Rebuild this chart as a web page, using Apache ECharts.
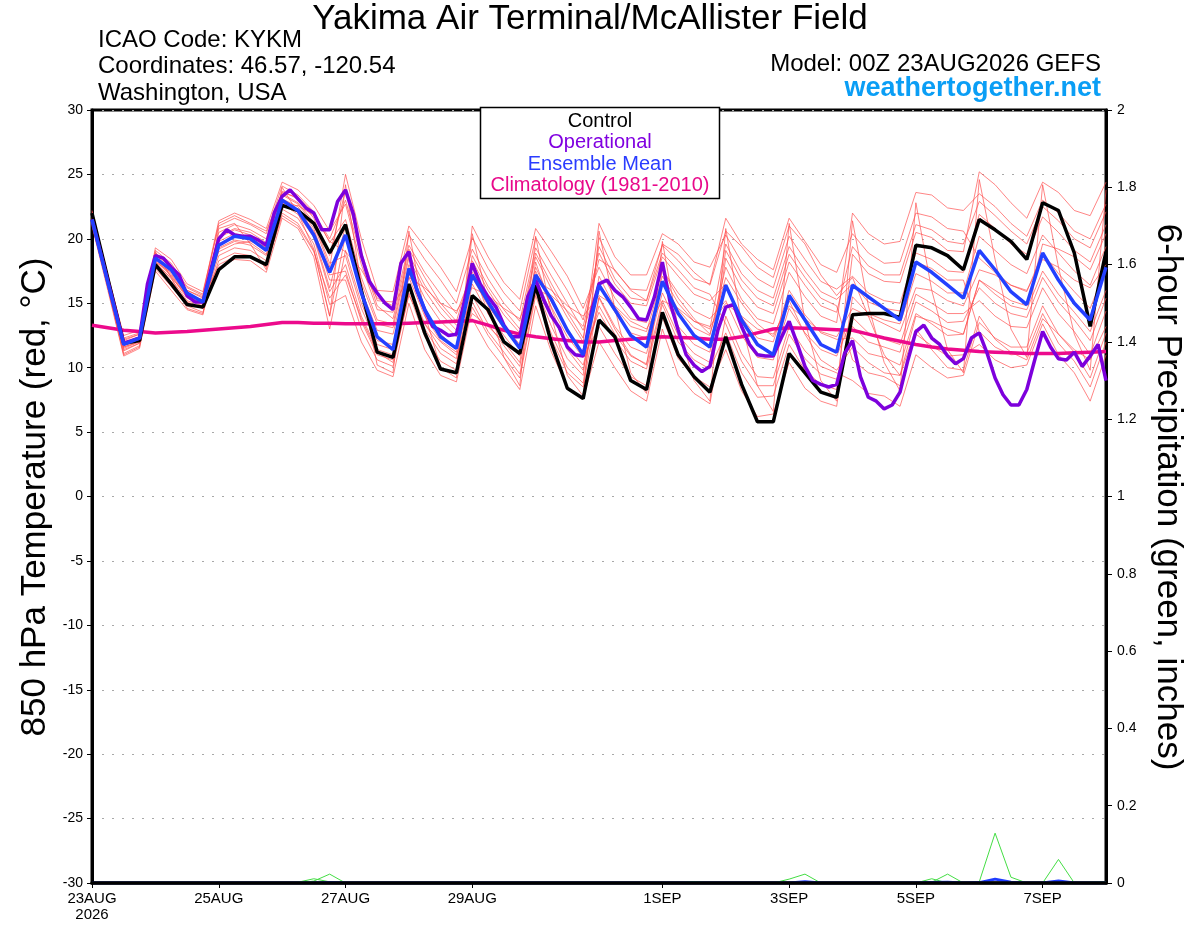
<!DOCTYPE html>
<html><head><meta charset="utf-8">
<script src="https://cdn.jsdelivr.net/npm/echarts@6/dist/echarts.min.js"></script>
<style>html,body{margin:0;padding:0;background:#fff}#c{width:1200px;height:927px}</style>
</head><body><div id="c"></div>
<script>
// ---- x-axis tick labels (hours since 00Z 23AUG2026) ----
const xTickHours = [0, 48, 96, 144, 216, 264, 312, 360];
const xTickLabels = ['23AUG\n2026', '25AUG', '27AUG', '29AUG', '1SEP', '3SEP', '5SEP', '7SEP'];

// ---- 850 hPa temperature, 6-hourly (65 steps) ----
const control = [22.0,16.9,11.9,12.1,18.0,16.5,14.9,14.7,17.6,18.6,18.6,18.0,22.6,22.2,21.2,18.9,
  21.1,16.0,11.2,10.8,16.5,12.7,9.9,9.6,15.6,14.5,12.0,11.1,16.4,11.9,8.4,7.6,
  13.7,12.4,9.0,8.3,14.3,11.0,9.3,8.1,12.4,8.7,5.8,5.8,11.1,9.6,8.1,7.7,
  14.1,14.2,14.2,13.9,19.5,19.3,18.7,17.6,21.5,20.7,19.8,18.4,22.8,22.2,18.9,13.2,19.0];
const ensembleMean = [21.5,16.6,11.8,12.3,18.5,17.6,15.8,15.1,19.5,20.2,20.0,19.1,23.0,22.2,20.3,17.4,
  20.3,15.8,12.4,11.4,17.7,14.5,12.4,11.5,17.2,15.1,13.2,11.5,17.2,15.3,12.9,11.0,
  16.4,14.5,12.5,11.6,16.7,14.2,12.5,11.6,16.4,13.7,11.8,11.0,15.6,13.7,11.8,11.2,
  16.4,15.5,14.6,13.7,18.2,17.4,16.4,15.4,19.1,17.6,15.9,14.9,18.9,16.8,15.0,13.7,17.8];
const climatology = [13.3,13.1,12.9,12.8,12.7,12.75,12.8,12.9,13.0,13.1,13.2,13.35,13.5,13.5,13.45,13.45,
  13.4,13.4,13.4,13.4,13.45,13.5,13.55,13.6,13.65,13.3,12.9,12.6,12.4,12.25,12.1,12.0,
  12.0,12.1,12.2,12.3,12.4,12.35,12.3,12.2,12.2,12.4,12.7,13.0,13.1,13.05,13.0,12.95,
  12.9,12.6,12.3,12.05,11.8,11.6,11.45,11.35,11.25,11.2,11.15,11.1,11.1,11.1,11.15,11.2,11.25];

// ---- operational run, 3-hourly (129 steps) ----
const operational = [21.5,19.1,16.7,14.3,11.9,12.1,12.3,16.5,18.7,18.5,17.8,17.2,15.6,15.1,15.1,17.6,
  20.0,20.7,20.3,20.2,20.2,19.9,19.5,22.0,23.3,23.8,23.1,22.4,22.0,20.7,20.7,22.9,
  23.8,21.9,18.7,16.7,15.8,15.0,14.5,18.1,19.0,16.0,14.5,13.2,12.9,12.5,12.6,15.1,
  18.1,16.5,15.5,14.7,13.3,12.4,12.4,15.5,16.8,15.3,14.0,13.1,11.6,11.0,10.9,14.2,
  16.5,16.8,16.0,15.5,14.7,13.8,13.7,15.5,18.2,15.0,12.9,11.0,10.2,9.7,10.1,12.9,
  14.7,14.9,13.2,11.8,11.0,10.9,10.9,12.3,13.6,11.9,10.1,9.0,8.7,8.5,8.7,11.1,
  12.1,9.3,7.7,7.4,6.8,7.1,8.1,10.6,12.8,13.3,12.3,11.8,10.9,10.3,10.7,12.3,
  12.7,11.1,9.2,7.9,7.1,7.1,8.3,10.6,12.8,11.6,10.7,10.6,11.2,10.1,10.9,11.8,9.0];

// ---- ensemble members, 6-hourly ----
const member01 = [22.1,17.1,12.3,12.7,19.1,18.1,16.3,15.7,21.4,22.0,21.5,20.8,24.4,23.8,22.6,20.6,22.7,18.0,14.5,14.3,19.5,17.4,15.7,14.2,17.4,15.1,13.3,11.8,17.8,15.1,12.8,11.1,14.3,12.2,10.5,9.9,14.9,12.0,10.6,9.9,12.7,9.6,7.7,7.8,11.8,9.8,8.7,8.3,18.8,17.3,16.7,16.6,20.5,20.1,19.1,19.0,25.2,24.2,22.8,21.6,24.4,23.6,22.2,21.8,24.4];
const member02 = [21.9,16.9,12.1,12.6,18.9,17.8,16.0,15.5,20.1,20.7,20.3,19.5,23.4,22.7,21.1,17.8,25.0,20.0,16.0,15.9,21.0,19.4,17.8,15.9,20.1,17.7,15.8,14.4,20.1,18.0,16.0,13.7,18.9,16.5,15.0,14.8,18.6,17.1,15.7,15.2,16.5,13.9,12.3,12.0,16.0,14.1,12.7,12.2,12.3,11.1,10.8,10.2,14.2,13.4,12.5,12.6,16.8,15.7,14.8,14.5,17.5,15.7,14.3,12.8,16.0];
const member03 = [21.8,16.8,11.9,12.4,18.6,17.5,15.8,15.2,19.2,19.8,19.5,18.7,22.7,21.9,20.1,15.9,18.0,14.0,11.4,11.0,16.5,13.4,11.5,10.7,18.3,16.0,14.1,12.7,18.6,16.1,13.9,12.0,21.2,18.6,17.2,17.2,20.4,19.6,18.2,17.8,20.3,18.2,16.9,16.2,20.2,18.4,16.7,16.1,17.1,15.8,15.2,15.0,18.9,18.4,17.5,17.4,21.9,20.8,19.6,18.8,21.7,20.5,19.1,18.2,21.1];
const member04 = [21.6,16.6,11.7,12.2,18.4,17.2,15.5,15.0,20.5,21.1,20.7,20.0,23.7,23.1,21.6,18.7,23.8,19.0,15.2,15.1,20.3,18.4,16.8,15.0,19.2,16.9,15.0,13.6,19.3,17.1,15.0,12.9,16.6,14.3,12.7,12.3,16.7,14.5,13.1,12.5,17.8,15.3,13.8,13.4,17.4,15.5,14.0,13.5,22.0,20.4,19.6,19.8,23.6,23.4,22.4,22.2,23.5,22.5,21.2,20.2,23.0,22.0,20.6,20.0,22.7];
const member05 = [21.4,16.4,11.5,12.0,18.2,16.9,15.2,14.8,18.7,19.3,19.1,18.3,22.3,21.6,19.6,14.9,15.6,12.0,9.8,9.3,15.0,11.4,9.4,8.9,14.7,12.5,10.8,9.2,15.6,12.2,9.6,8.5,15.5,13.2,11.6,11.1,15.8,13.2,11.8,11.2,19.1,16.8,15.4,14.8,18.8,17.0,15.4,14.8,10.6,9.6,9.3,8.6,12.6,11.7,10.9,11.0,11.8,10.6,10.0,10.2,13.4,11.0,9.6,7.4,11.0];
const member06 = [21.3,16.3,11.3,11.9,18.0,16.6,15.0,14.6,18.3,18.9,18.7,17.8,22.0,21.2,19.1,14.0,20.3,16.0,12.9,12.6,18.0,15.4,13.6,12.4,17.0,14.8,13.0,11.5,17.5,14.7,12.4,10.8,13.2,11.1,9.3,8.6,13.9,10.7,9.3,8.5,11.4,8.2,6.2,6.4,10.4,8.4,7.4,7.0,15.5,14.2,13.7,13.4,17.3,16.7,15.8,15.8,20.2,19.1,18.0,17.3,20.3,18.9,17.5,16.4,19.4];
const member07 = [21.1,16.2,11.1,11.7,17.7,16.3,14.8,14.3,17.8,18.4,18.3,17.4,21.6,20.8,18.6,13.0,19.1,15.0,12.1,11.8,17.3,14.4,12.6,11.5,15.6,13.4,11.7,10.1,16.3,13.2,10.7,9.4,20.1,17.5,16.1,16.0,19.5,18.3,16.9,16.5,21.6,19.6,18.4,17.6,21.6,19.8,18.0,17.4,20.4,18.9,18.1,18.2,22.0,21.7,20.8,20.6,18.5,17.4,16.4,15.9,18.9,17.3,15.9,14.6,17.7];
const member08 = [22.2,17.2,12.5,12.9,19.3,18.4,16.5,15.9,21.0,21.6,21.1,20.4,24.1,23.4,22.1,19.7,21.5,17.0,13.7,13.4,18.8,16.4,14.7,13.3,13.8,11.6,10.0,8.3,14.8,11.2,8.5,7.6,12.0,10.0,8.2,7.4,13.0,9.4,8.0,7.2,14.0,11.1,9.3,9.2,13.2,11.3,10.1,9.6,9.0,8.0,7.8,7.0,11.0,10.0,9.2,9.4,13.5,12.3,11.6,11.6,14.8,12.6,11.2,9.2,12.7];
const member09 = [21.0,16.0,10.9,11.5,17.5,16.0,14.5,14.1,19.6,20.2,19.9,19.1,23.0,22.3,20.6,16.8,16.8,13.0,10.6,10.1,15.8,12.4,10.5,9.8,21.0,18.6,16.6,15.3,20.8,19.0,17.1,14.6,17.8,15.4,13.8,13.5,17.6,15.8,14.4,13.8,15.2,12.5,10.8,10.6,14.6,12.7,11.4,10.9,13.9,12.7,12.2,11.8,15.7,15.0,14.2,14.2,15.2,14.0,13.2,13.1,16.2,14.2,12.8,11.0,14.4];
const member10 = [21.7,16.7,11.8,12.3,18.5,17.3,15.6,15.1,19.8,20.4,20.1,19.3,23.1,22.5,20.8,17.2,17.5,13.6,11.0,10.6,16.2,13.0,11.1,10.3,16.5,14.2,12.5,10.9,17.1,14.1,11.7,10.2,14.8,12.6,10.9,10.3,15.2,12.5,11.1,10.4,18.5,16.2,14.7,14.2,18.2,16.4,14.8,14.3,19.4,17.9,17.2,17.2,21.1,20.7,19.8,19.6,22.9,21.8,20.6,19.6,22.5,21.4,20.0,19.3,22.1];
const member11 = [21.3,16.4,11.4,11.9,18.1,16.7,15.1,14.6,20.2,20.8,20.5,19.7,23.5,22.8,21.3,18.1,18.7,14.6,11.8,11.4,17.0,14.0,12.1,11.2,18.7,16.3,14.5,13.0,18.9,16.5,14.3,12.3,19.4,16.9,15.4,15.2,18.9,17.6,16.2,15.7,13.4,10.5,8.6,8.6,12.6,10.7,9.5,9.1,13.2,12.0,11.6,11.2,15.1,14.4,13.5,13.6,16.2,15.0,14.2,13.9,17.0,15.1,13.7,12.1,15.4];
const member12 = [21.5,16.5,11.6,12.1,18.3,17.1,15.4,14.9,19.3,19.9,19.7,18.8,22.8,22.1,20.3,16.2,21.0,16.6,13.4,13.1,18.5,16.0,14.2,12.9,15.1,12.8,11.2,9.5,15.9,12.6,10.0,8.8,17.1,14.7,13.2,12.8,17.1,15.0,13.6,13.0,19.6,17.3,16.0,15.4,19.4,17.5,15.9,15.3,16.5,15.1,14.6,14.4,18.2,17.7,16.8,16.8,12.8,11.6,11.0,11.1,14.2,11.9,10.5,8.5,12.0];
const member13 = [21.6,16.8,12.0,12.4,18.2,17.4,16.0,15.4,19.0,19.6,19.8,19.4,22.4,22.6,21.8,19.8,19.0,17.6,15.4,14.8,17.0,16.2,15.0,14.4,16.2,15.6,14.6,13.8,16.8,16.0,14.8,14.0,15.6,14.8,13.6,13.0,15.2,14.6,13.6,13.2,15.0,14.0,13.0,12.6,14.8,13.8,12.8,12.4,14.6,14.0,13.4,12.8,16.2,16.0,15.2,14.8,17.6,17.2,16.4,16.0,18.4,17.8,16.8,16.2,18.0];
const member14 = [21.8,16.2,11.0,11.6,19.0,17.0,14.6,14.2,20.8,21.2,19.6,17.6,24.0,22.0,19.2,14.0,24.2,16.4,10.2,9.6,20.6,14.2,10.0,9.2,20.4,15.0,10.8,8.6,20.2,14.0,9.4,7.8,20.6,14.6,9.6,8.0,19.8,13.0,9.0,7.4,20.8,13.4,8.6,6.6,21.2,13.6,9.0,7.4,21.4,14.8,10.4,8.2,22.8,16.0,11.4,9.6,24.6,18.4,13.0,10.8,24.2,17.8,12.6,9.8,23.8];
const member15 = [21.2,16.5,11.6,12.0,18.0,17.0,15.6,15.3,18.0,18.6,18.6,18.0,21.8,21.0,19.0,15.4,17.2,13.8,11.2,10.4,15.6,13.4,12.0,11.0,14.2,13.2,12.0,11.0,16.0,15.6,14.4,13.2,18.4,17.6,16.0,15.2,19.6,18.8,17.4,16.4,20.6,19.4,17.8,17.0,21.0,19.6,17.2,15.6,17.0,14.0,11.0,9.4,13.0,11.4,10.0,9.8,14.0,12.2,11.2,10.6,13.8,12.6,11.4,10.6,13.2];
const member16 = [22.0,17.0,12.2,12.6,18.8,17.8,16.2,15.6,21.2,21.8,21.2,20.6,23.6,23.2,22.0,20.0,23.0,18.6,14.8,13.8,19.2,17.0,15.0,13.6,17.8,14.2,12.0,10.4,18.2,14.6,11.4,9.8,15.4,13.0,11.0,10.2,17.6,15.4,13.8,12.6,17.0,15.0,13.4,12.4,15.2,12.6,10.6,9.8,11.6,10.4,9.6,9.4,14.0,13.6,13.0,12.6,16.8,16.0,15.2,14.8,19.6,19.2,18.6,17.6,20.4];
const members = [member01, member02, member03, member04, member05, member06, member07, member08,
  member09, member10, member11, member12, member13, member14, member15, member16];

// ---- 6-hour precipitation (inches), 6-hourly ----
const precipA = [0,0,0,0,0,0,0,0,0,0,0,0,0,0,0.005,0.023,0,0,0,0,0,0,0,0,0,0,0,0,0,0,0,0,0,0,0,0,0,0,0.004,0,0,0,0,0,0.010,0.023,0,0,0,0,0,0,0,0.002,0.023,0,0.003,0.129,0.015,0,0,0.061,0,0.002,0.003];
const precipB = [0,0,0,0,0,0,0,0,0,0,0,0,0,0.002,0.011,0.003,0,0,0,0,0,0,0,0,0,0,0,0,0,0,0,0,0,0,0,0,0,0,0,0,0,0,0,0,0,0,0,0,0,0,0,0,0,0.011,0,0,0,0,0,0,0,0,0,0,0];
const precipMean = [0,0,0,0,0,0,0,0,0,0,0,0,0,0,0,0.001,0,0,0,0,0,0,0,0,0,0,0,0,0,0,0,0,0,0,0,0,0,0,0,0,0,0,0,0,0,0.003,0,0,0,0,0,0,0,0.001,0.002,0,0.001,0.010,0.002,0,0,0.005,0,0,0];

const FONT = '"Liberation Sans", Arial, Helvetica, sans-serif';
const six = a => a.map((v, i) => [i * 6, v]);
const three = a => a.map((v, i) => [i * 3, v]);
const labelMap = {};
xTickHours.forEach((h, i) => labelMap[h] = xTickLabels[i]);

const series = [];
members.forEach((m, i) => series.push({
  type: 'line', name: 'member' + (i + 1), data: six(m), symbol: 'none', silent: true,
  lineStyle: {color: '#ff4a4a', width: 0.8, opacity: 0.85}, z: 2
}));
series.push({type: 'line', data: six(precipA), yAxisIndex: 1, symbol: 'none', lineStyle: {color: '#44dd44', width: 1}, z: 3});
series.push({type: 'line', data: six(precipB), yAxisIndex: 1, symbol: 'none', lineStyle: {color: '#44dd44', width: 1}, z: 3});
series.push({type: 'line', data: six(precipMean), yAxisIndex: 1, symbol: 'none', lineStyle: {color: '#1f3cff', width: 3}, z: 3});
series.push({type: 'line', name: 'Climatology', data: six(climatology), symbol: 'none', lineStyle: {color: '#ec0a8c', width: 3.5}, z: 4});
series.push({type: 'line', name: 'Control', data: six(control), symbol: 'none', lineStyle: {color: '#000000', width: 3.5}, z: 5});
series.push({type: 'line', name: 'Operational', data: three(operational), symbol: 'none', lineStyle: {color: '#7d00dc', width: 3.5}, z: 6});
series.push({type: 'line', name: 'Ensemble Mean', data: six(ensembleMean), symbol: 'none', lineStyle: {color: '#2340ff', width: 3.5}, z: 7});

const chart = echarts.init(document.getElementById('c'));
chart.setOption({
  animation: false,
  backgroundColor: '#fff',
  grid: {left: 92, right: 94, top: 110, bottom: 44, show: true, borderColor: '#000', borderWidth: 3, containLabel: false},
  xAxis: {
    type: 'value', min: 0, max: 384, z: 10,
    axisLine: {show: true, onZero: false, lineStyle: {color: '#000', width: 3.5}},
    axisTick: {show: true, customValues: xTickHours, length: 5, lineStyle: {color: '#000', width: 1}},
    axisLabel: {customValues: xTickHours, formatter: v => labelMap[v] || '', fontSize: 15, color: '#000', fontFamily: FONT, margin: 8, lineHeight: 16},
    splitLine: {show: false}
  },
  yAxis: [{
    type: 'value', min: -30, max: 30, interval: 5,
    axisLine: {show: true, lineStyle: {color: '#000', width: 3}},
    axisTick: {show: true, length: 5, lineStyle: {color: '#000', width: 1}},
    axisLabel: {fontSize: 14, color: '#000', fontFamily: FONT, margin: 9},
    splitLine: {show: true, lineStyle: {color: '#a8a8a8', width: 1, type: [2, 8]}}
  }, {
    type: 'value', min: 0, max: 2, interval: 0.2, position: 'right',
    axisLine: {show: true, lineStyle: {color: '#000', width: 3}},
    axisTick: {show: true, length: 6, lineStyle: {color: '#000', width: 1}},
    axisLabel: {fontSize: 14, color: '#000', fontFamily: FONT, margin: 11},
    splitLine: {show: false}
  }],
  series: series,
  graphic: [
    {type: 'text', x: 590, y: 19, z: 100, style: {text: 'Yakima Air Terminal/McAllister Field', font: '35px ' + FONT, fill: '#000', align: 'center', verticalAlign: 'middle'}},
    {type: 'text', x: 98, y: 40, z: 100, style: {text: 'ICAO Code: KYKM', font: '24px ' + FONT, fill: '#000', align: 'left', verticalAlign: 'middle'}},
    {type: 'text', x: 98, y: 66, z: 100, style: {text: 'Coordinates: 46.57, -120.54', font: '24px ' + FONT, fill: '#000', align: 'left', verticalAlign: 'middle'}},
    {type: 'text', x: 98, y: 93, z: 100, style: {text: 'Washington, USA', font: '24px ' + FONT, fill: '#000', align: 'left', verticalAlign: 'middle'}},
    {type: 'text', x: 1101, y: 64, z: 100, style: {text: 'Model: 00Z 23AUG2026 GEFS', font: '24px ' + FONT, fill: '#000', align: 'right', verticalAlign: 'middle'}},
    {type: 'text', x: 1101, y: 89, z: 100, style: {text: 'weathertogether.net', font: 'bold 27px ' + FONT, fill: '#0a9ef5', align: 'right', verticalAlign: 'middle'}},
    {type: 'rect', z: 100, shape: {x: 480.5, y: 107.5, width: 239, height: 91}, style: {fill: '#fff', stroke: '#000', lineWidth: 1.5}},
    {type: 'text', x: 600, y: 121, z: 101, style: {text: 'Control', font: '20px ' + FONT, fill: '#000', align: 'center', verticalAlign: 'middle'}},
    {type: 'text', x: 600, y: 142, z: 101, style: {text: 'Operational', font: '20px ' + FONT, fill: '#8000e0', align: 'center', verticalAlign: 'middle'}},
    {type: 'text', x: 600, y: 164, z: 101, style: {text: 'Ensemble Mean', font: '20px ' + FONT, fill: '#2a3cff', align: 'center', verticalAlign: 'middle'}},
    {type: 'text', x: 600, y: 185, z: 101, style: {text: 'Climatology (1981-2010)', font: '20px ' + FONT, fill: '#e8088a', align: 'center', verticalAlign: 'middle'}},
    {type: 'text', x: 35, y: 497, rotation: Math.PI / 2, z: 100, style: {text: '850 hPa Temperature (red, °C)', font: '35px ' + FONT, fill: '#000', align: 'center', verticalAlign: 'middle'}},
    {type: 'text', x: 1168, y: 497, rotation: -Math.PI / 2, z: 100, style: {text: '6-hour Precipitation (green, inches)', font: '35px ' + FONT, fill: '#000', align: 'center', verticalAlign: 'middle'}}
  ]
});
</script>
</body></html>
